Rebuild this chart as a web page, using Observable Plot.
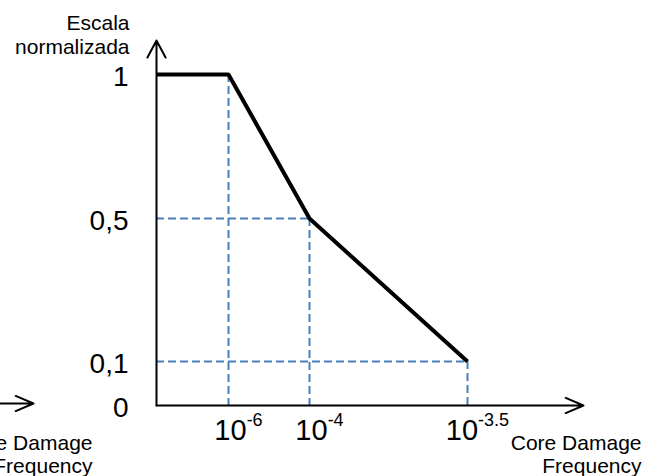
<!DOCTYPE html>
<html><head><meta charset="utf-8">
<script src="https://cdn.jsdelivr.net/npm/d3@7"></script>
<script src="https://cdn.jsdelivr.net/npm/@observablehq/plot@0.6"></script>
<style>html,body{margin:0;padding:0;background:#fff;overflow:hidden} #chart svg{display:block}</style>
</head><body><div id="chart"></div>
<script>
// Schematic chart: x = exponent of the core damage frequency, y = normalized scale
const xOrigin = -7;
const xAxisEnd = -3;
const xTickExps = [-6, -4, -3.5];
const xTickLabels = ["-6", "-4", "-3.5"];
const curveX = [-7, -6, -4, -3.5];
const curveY = [1, 1, 0.5, 0.1];
const yTicks = [0, 0.1, 0.5, 1];
const yTickLabels = ["0", "0,1", "0,5", "1"];
const yAxisEnd = 1.1;
const yTitle = "Escala\nnormalizada";
const xTitle = "Core Damage\nFrequency";

// the drawing's axes are schematic (uneven spacing): relative stretch of each axis
const xStretch = d3.scaleLinear().domain([xOrigin, ...xTickExps, xAxisEnd]).range([0, 72, 153, 311, 427]);
const yStretch = d3.scaleLinear().domain([...yTicks, yAxisEnd]).range([0, 44, 187, 331, 365]);

const pts = curveX.map((x, i) => ({x, y: curveY[i]}));
const guides = pts.filter(d => d.x !== xOrigin);
const blue = "#4a7ebb";
const xAxisData = [{x1: xOrigin, y1: 0, x2: xAxisEnd, y2: 0}];
const yAxisData = [{x1: xOrigin, y1: 0, x2: xOrigin, y2: yAxisEnd}];

const chart = Plot.plot({
  width: 654,
  height: 476,
  marginLeft: 156,
  marginRight: 71,
  marginTop: 40,
  marginBottom: 71,
  style: {fontFamily: "'Liberation Sans', Arial, sans-serif", color: "black", background: "white"},
  x: {axis: null, transform: xStretch},
  y: {axis: null, transform: yStretch},
  marks: [
    Plot.ruleX(guides, {x: "x", y1: "y", y2: 0, stroke: blue, strokeWidth: 2, strokeDasharray: "8,4"}),
    Plot.ruleY(guides.filter(d => d.y < 1), {y: "y", x1: xOrigin, x2: "x", stroke: blue, strokeWidth: 2, strokeDasharray: "8,4"}),
    Plot.arrow(xAxisData, {x1: "x1", y1: "y1", x2: "x2", y2: "y2", stroke: "black", strokeWidth: 2, headLength: 14.5, headAngle: 46}),
    Plot.arrow(xAxisData, {x1: "x1", y1: "y1", x2: "x2", y2: "y2", stroke: "black", strokeWidth: 2, headLength: 14.5, headAngle: 46, dx: -550, dy: -2}),
    Plot.arrow(yAxisData, {x1: "x1", y1: "y1", x2: "x2", y2: "y2", stroke: "black", strokeWidth: 2, headLength: 14.5, headAngle: 56}),
    Plot.line(pts, {x: "x", y: "y", stroke: "black", strokeWidth: 4, strokeLinejoin: "miter", strokeLinecap: "butt"}),
    Plot.text(yTicks.map((v, i) => ({y: v, label: yTickLabels[i]})), {x: xOrigin, y: "y", text: "label", textAnchor: "end", lineAnchor: "middle", dx: -28, dy: 3, fontSize: 28}),
    Plot.text(xTickExps.map((v, i) => ({x: v, label: "10^" + xTickLabels[i]})), {x: "x", y: 0, text: "label", textAnchor: "middle", lineAnchor: "bottom", dx: 10, dy: 34, fontSize: 29}),
    Plot.text([yTitle], {x: xOrigin, y: yAxisEnd, text: d => d, textAnchor: "end", lineAnchor: "bottom", lineHeight: 1.1, dx: -27, dy: 13, fontSize: 21}),
    Plot.text([xTitle], {x: xAxisEnd, y: 0, text: d => d, textAnchor: "end", lineAnchor: "bottom", lineHeight: 1.05, dx: 58, dy: 67, fontSize: 21}),
    Plot.text([xTitle], {x: xAxisEnd, y: 0, text: d => d, textAnchor: "end", lineAnchor: "bottom", lineHeight: 1.05, dx: -491, dy: 67, fontSize: 21})
  ]
});
document.getElementById("chart").appendChild(chart);

// superscript exponents for the x tick labels
d3.select(chart).selectAll("text").each(function () {
  if (this.childElementCount === 0 && this.textContent.includes("^")) {
    const [base, exp] = this.textContent.split("^");
    this.textContent = base;
    d3.select(this).append("tspan").attr("dy", -14).attr("font-size", 18).text(exp);
  }
});
</script>
</body></html>
